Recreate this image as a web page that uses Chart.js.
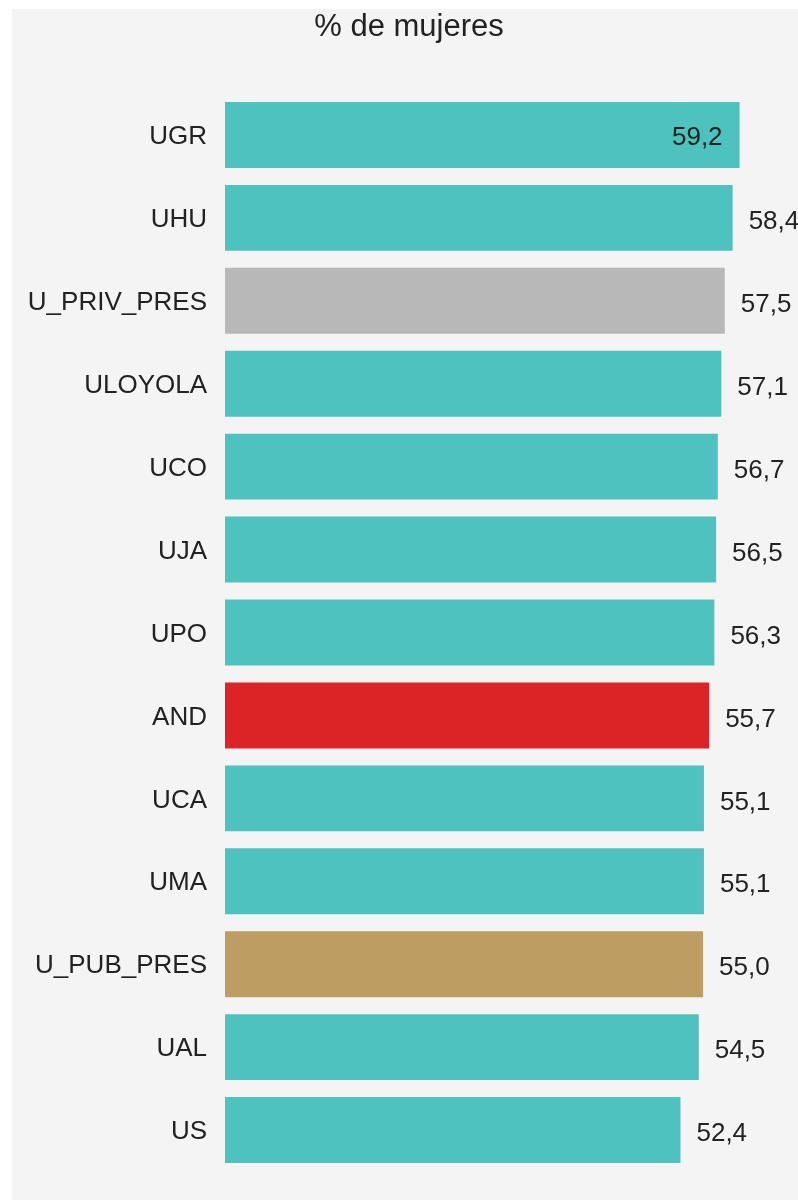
<!DOCTYPE html>
<html>
<head>
<meta charset="utf-8">
<script src="https://cdn.jsdelivr.net/npm/chart.js@4/dist/chart.umd.min.js"></script>
<style>
  html, body { margin: 0; padding: 0; background: #ffffff; }
  #wrap { position: absolute; left: 12px; top: 9px; width: 786px; height: 1191px; background: #f4f4f4; }
</style>
</head>
<body>
<div id="wrap"><canvas id="chart"></canvas></div>
<script>
const universidades = ['UGR', 'UHU', 'U_PRIV_PRES', 'ULOYOLA', 'UCO', 'UJA', 'UPO', 'AND', 'UCA', 'UMA', 'U_PUB_PRES', 'UAL', 'US'];
const pctMujeres = [59.2, 58.4, 57.5, 57.1, 56.7, 56.5, 56.3, 55.7, 55.1, 55.1, 55.0, 54.5, 52.4];

const TEAL = '#4ec2be';
const barColors = universidades.map(u => {
  if (u === 'AND') return '#dc2426';
  if (u === 'U_PRIV_PRES') return '#b8b8b8';
  if (u === 'U_PUB_PRES') return '#be9d63';
  return TEAL;
});

const FONT = "'Liberation Sans', Arial, sans-serif";

// value labels: outside the bar end, or inside when they would not fit
const valueLabels = {
  id: 'valueLabels',
  afterLayout(chart) {
    // title sits a bit right of the canvas centre in the original
    chart.titleBlock.left += 16;
  },
  afterDatasetsDraw(chart) {
    const ctx = chart.ctx;
    const meta = chart.getDatasetMeta(0);
    ctx.save();
    ctx.font = '26px ' + FONT;
    ctx.fillStyle = '#222222';
    ctx.textBaseline = 'middle';
    meta.data.forEach((bar, i) => {
      const txt = pctMujeres[i].toFixed(1).replace('.', ',');
      const w = ctx.measureText(txt).width;
      if (bar.x + 16 + w > chart.width + 4) {
        ctx.textAlign = 'right';
        ctx.fillText(txt, bar.x - 17, bar.y + 3);
      } else {
        ctx.textAlign = 'left';
        ctx.fillText(txt, bar.x + 16, bar.y + 4);
      }
    });
    ctx.restore();
  }
};

new Chart(document.getElementById('chart'), {
  type: 'bar',
  data: {
    labels: universidades,
    datasets: [{
      data: pctMujeres,
      backgroundColor: barColors,
      borderWidth: 0,
      categoryPercentage: 1,
      barPercentage: 0.795
    }]
  },
  options: {
    indexAxis: 'y',
    responsive: true,
    maintainAspectRatio: false,
    animation: false,
    layout: { padding: { top: 0, right: 8, bottom: 28.5, left: 0 } },
    plugins: {
      legend: { display: false },
      tooltip: { enabled: false },
      title: {
        display: true,
        text: '% de mujeres',
        color: '#222222',
        font: { family: FONT, size: 31, weight: 'normal' },
        padding: { top: 0, bottom: 47.3 }
      }
    },
    scales: {
      x: { display: false, min: 0, max: 65 },
      y: {
        grid: { display: false },
        border: { display: false },
        ticks: { color: '#222222', font: { family: FONT, size: 26 }, padding: 10, labelOffset: 2 },
        afterFit(scale) { scale.width = 213; }
      }
    }
  },
  plugins: [valueLabels]
});
</script>
</body>
</html>
